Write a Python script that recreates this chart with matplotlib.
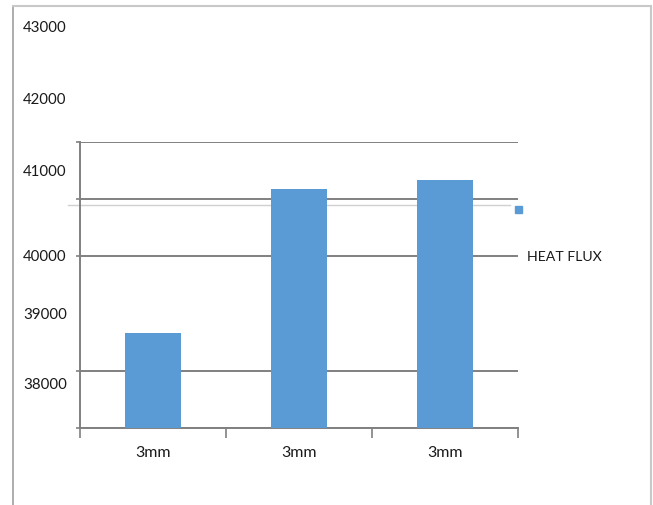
import matplotlib.pyplot as plt
from matplotlib.lines import Line2D
from matplotlib.patches import Rectangle

# bar data
categories = ['3mm', '3mm', '3mm']
heat_flux = [38660, 41180, 41340]

# axis labels printed down the left side
side_labels = ['43000', '42000', '41000', '40000', '39000', '38000']
side_label_y = [0.945, 0.803, 0.660, 0.492, 0.378, 0.239]

grid_values = [37000, 38000, 40000, 41000, 42000]
ref_level = 40900

plt.rcParams['font.family'] = ['Lato', 'DejaVu Sans']

fig = plt.figure(figsize=(6.53, 5.06), dpi=100)
ax = fig.add_axes([80 / 653, 1 - 429 / 506, 438 / 653, 286 / 506])

gray = '#808080'
text_col = '#1a1a1a'
x = range(len(categories))
ax.bar(x, heat_flux, width=0.39, color='#5b9bd5', zorder=3)

ax.set_xlim(-0.5, 2.5)
ax.set_ylim(37000, 42000)
ax.set_yticks(grid_values)
ax.set_yticklabels([])
ax.yaxis.grid(True, color=gray, linewidth=1.4)
ax.set_axisbelow(True)
ax.tick_params(axis='y', length=3, width=1.2, color=gray)

# faint reference line, behind the bars and running past the left spine
ax.axhline(ref_level, xmin=-12 / 438, xmax=430 / 438, color='#d0d0d0',
           linewidth=1.0, clip_on=False, zorder=2)

# category boundaries as ticks, labels centred under each bar
ax.set_xticks([-0.5, 0.5, 1.5, 2.5])
ax.set_xticklabels([])
ax.tick_params(axis='x', length=7, width=1.2, color=gray)
for i, c in enumerate(categories):
    ax.text(i, -0.085, c, transform=ax.get_xaxis_transform(),
            ha='center', va='center', fontsize=11.5, color=text_col)

for side in ['top', 'right']:
    ax.spines[side].set_visible(False)
for side in ['left', 'bottom']:
    ax.spines[side].set_color(gray)
    ax.spines[side].set_linewidth(1.4)

for lab, yy in zip(side_labels, side_label_y):
    fig.text(23 / 653, yy, lab, ha='left', va='center', fontsize=10.8, color=text_col)

# legend
fig.add_artist(Rectangle((515 / 653, 1 - 214 / 506), 7 / 653, 7 / 506,
                         color='#5b9bd5', transform=fig.transFigure))
fig.text(527 / 653, 1 - 257 / 506, 'HEAT FLUX', ha='left', va='center',
         fontsize=10.2, color=text_col)

# outer frame
fig.add_artist(Line2D([13 / 653, 13 / 653], [0, 1 - 7 / 506], color='#a0a0a0', linewidth=1.2))
fig.add_artist(Line2D([13 / 653, 651 / 653], [1 - 7 / 506] * 2, color='#c8c8c8', linewidth=1.5))
fig.add_artist(Line2D([651 / 653, 651 / 653], [0, 1 - 7 / 506], color='#c8c8c8', linewidth=1.5))

fig.savefig('out.png', dpi=100)
